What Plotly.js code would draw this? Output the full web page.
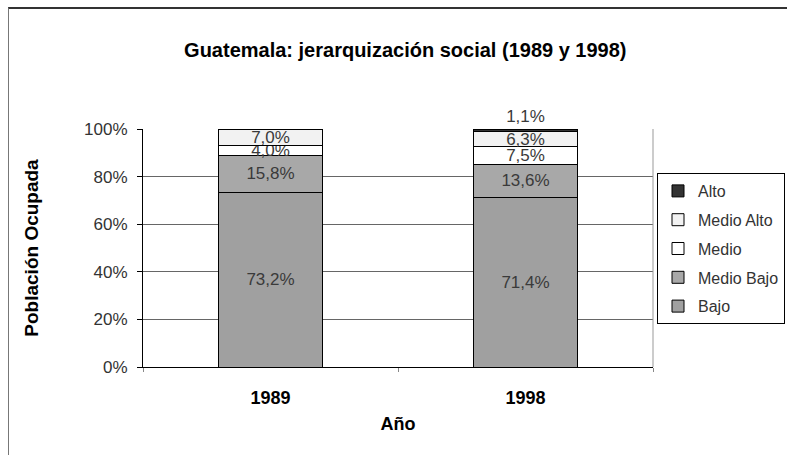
<!DOCTYPE html>
<html>
<head>
<meta charset="utf-8">
<script src="https://cdn.plot.ly/plotly-3.0.1.min.js"></script>
<style>
html,body{margin:0;padding:0;background:#fff;overflow:hidden;}
#wrap{position:relative;width:787px;height:455px;}
#frame{position:absolute;left:8px;top:7px;width:800px;height:470px;border-top:2px solid #333;border-left:1px solid #777;pointer-events:none;}
</style>
</head>
<body>
<div id="wrap"><div id="chart"></div><div id="frame"></div></div>
<script>
const years = ['1989', '1998'];
const seriesNames = ['Bajo', 'Medio Bajo', 'Medio', 'Medio Alto', 'Alto'];
const bajo = [73.2, 71.4];
const medioBajo = [15.8, 13.6];
const medio = [4.0, 7.5];
const medioAlto = [7.0, 6.3];
const alto = [0, 1.1];
const yTickVals = [0, 20, 40, 60, 80, 100];
const yTickText = yTickVals.map(v => v + '%');

const values = [bajo, medioBajo, medio, medioAlto, alto];
const colors = ['#a0a0a0', '#a8a8a8', '#ffffff', '#f2f2f2', '#333333'];
const fmt = v => v > 0 ? v.toFixed(1).replace('.', ',') + '%' : '';
const FONT = 'Liberation Sans, Arial, sans-serif';

const traces = seriesNames.map((name, i) => ({
  type: 'bar',
  name: name,
  x: years,
  y: values[i],
  text: values[i].map(fmt),
  textposition: name === 'Alto' ? 'outside' : 'inside',
  insidetextanchor: 'middle',
  textangle: 0,
  cliponaxis: false,
  textfont: {family: FONT, size: 17, color: '#3a3a3a'},
  marker: {color: colors[i], line: {color: '#000', width: 1}},
  legendgroup: name,
  legendrank: 10 - i,
  hoverinfo: 'skip'
}));

const layout = {
  width: 787, height: 455,
  margin: {l: 143, r: 134, t: 129, b: 88},
  paper_bgcolor: '#fff', plot_bgcolor: '#fff',
  barmode: 'stack',
  bargap: 0.59,
  font: {family: FONT, size: 17, color: '#333'},
  uniformtext: {mode: 'show', minsize: 17},
  title: {
    text: 'Guatemala: jerarquización social (1989 y 1998)',
    font: {family: FONT, size: 20, color: '#000', weight: 'bold'},
    xref: 'container', x: 0.515, xanchor: 'center',
    yref: 'container', y: 1 - 50/455, yanchor: 'middle'
  },
  xaxis: {
    type: 'category',
    showline: true, linecolor: '#000', linewidth: 1,
    ticks: 'outside', tickson: 'boundaries', ticklen: 4, tickcolor: '#888',
    tickfont: {family: FONT, size: 18, color: '#000', weight: 'bold'},
    ticklabelstandoff: 14,
    showgrid: false, zeroline: false,
    title: {text: 'Año', standoff: 10, font: {family: FONT, size: 18, color: '#000', weight: 'bold'}}
  },
  yaxis: {
    range: [0, 100],
    tickmode: 'array',
    tickvals: yTickVals,
    ticktext: yTickText,
    showline: true, linecolor: '#000', linewidth: 1,
    ticks: 'outside', ticklen: 5, tickcolor: '#000',
    ticklabelstandoff: 6,
    showgrid: true, gridcolor: '#666', gridwidth: 1,
    zeroline: false,
    tickfont: {family: FONT, size: 17, color: '#333'},
    title: {text: 'Población Ocupada', standoff: 40, font: {family: FONT, size: 19, color: '#000', weight: 'bold'}}
  },
  legend: {
    xref: 'container', yref: 'container',
    x: 785 / 787, xanchor: 'right',
    y: 1 - 173 / 455, yanchor: 'top',
    bordercolor: '#000', borderwidth: 1, bgcolor: '#fff',
    traceorder: 'grouped', tracegroupgap: 5,
    font: {family: FONT, size: 16, color: '#333'}
  },
  shapes: [{type: 'line', xref: 'paper', yref: 'paper', x0: 1, x1: 1, y0: 0, y1: 1, line: {color: '#999', width: 1}}],
  showlegend: true
};

Plotly.newPlot('chart', traces, layout, {displayModeBar: false, staticPlot: true});
</script>
</body>
</html>
